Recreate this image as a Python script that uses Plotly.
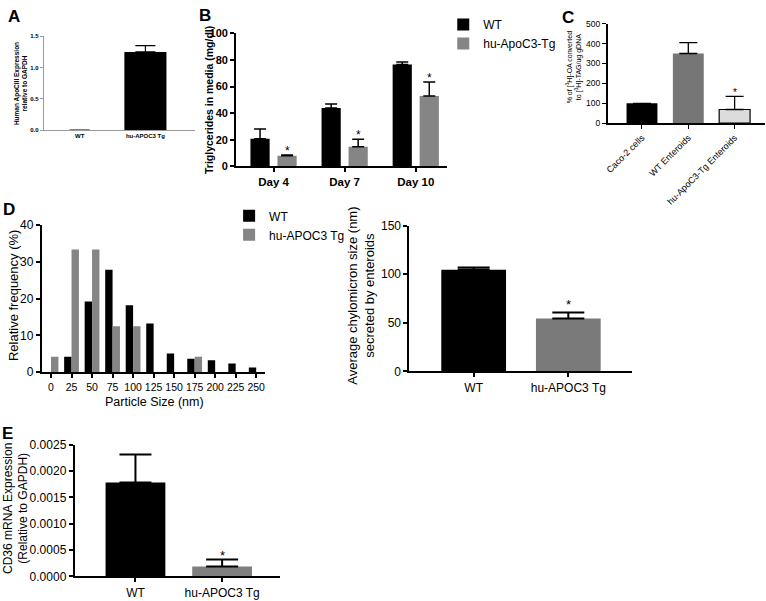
import plotly.graph_objects as go

W, H = 766, 601

# ---------------- data ----------------
# Panel A
a_groups = ["WT", "hu-APOC3 Tg"]
a_values = [0.0, 1.25]
a_errors = [None, 0.10]

# Panel B
b_days = ["Day 4", "Day 7", "Day 10"]
b_wt = [20.7, 43.9, 76.6]
b_wt_err = [7.3, 2.9, 1.9]
b_tg = [7.8, 14.6, 52.9]
b_tg_err = [0.7, 5.6, 10.5]

# Panel C
c_groups = ["Caco-2 cells", "WT Enteroids", "hu-ApoC3-Tg Enteroids"]
c_values = [100, 350, 69]
c_errors = [None, 55, 66]

# Panel D (left) - particle size distribution
d_sizes = ["0", "25", "50", "75", "100", "125", "150", "175", "200", "225", "250"]
d_wt = [0, 4.2, 19.2, 27.8, 18.2, 13.2, 5.1, 3.7, 3.3, 2.4, 1.3]
d_tg = [4.2, 33.3, 33.3, 12.5, 12.5, 0, 0, 4.2, 0, 0, 0]

# Panel D (right) - average chylomicron size
d2_groups = ["WT", "hu-APOC3 Tg"]
d2_values = [104.7, 54.4]
d2_errors = [2.3, 6.3]

# Panel E - CD36 mRNA
e_groups = ["WT", "hu-APOC3 Tg"]
e_values = [0.00178, 0.00019]
e_errors = [0.00053, 0.00013]

# ---------------- helpers ----------------
FONT = "Liberation Sans, Arial, sans-serif"
GRAY = "#858585"


def dx(a, b):
    return [a / W, b / W]


def dy(top, bottom):
    return [1 - bottom / H, 1 - top / H]


def px_x(v):
    return v / W


def px_y(v):
    return 1 - v / H


fig = go.Figure()


def err(arr, w, th=1.5):
    return dict(type="data", symmetric=False, array=arr, arrayminus=[0] * len(arr),
                color="black", thickness=th, width=w)


# Panel A
fig.add_trace(go.Bar(x=list(range(len(a_groups))), y=a_values, width=0.64,
                     marker=dict(color="black", line=dict(width=0)),
                     error_y=err(a_errors, 10, 1.2), xaxis="x", yaxis="y", showlegend=False))

# Panel B
xs = list(range(len(b_days)))
fig.add_trace(go.Bar(x=[i - 0.19 for i in xs], y=b_wt, width=0.27, name="WT",
                     marker=dict(color="black", line=dict(width=0)),
                     error_y=err(b_wt_err, 6), xaxis="x2", yaxis="y2", legend="legend"))
fig.add_trace(go.Bar(x=[i + 0.19 for i in xs], y=b_tg, width=0.27, name="hu-ApoC3-Tg",
                     marker=dict(color=GRAY, line=dict(width=0)),
                     error_y=err(b_tg_err, 6), xaxis="x2", yaxis="y2", legend="legend"))

# Panel C
c_colors = ["black", "#767676", "#dcdcdc"]
fig.add_trace(go.Bar(x=list(range(len(c_groups))), y=c_values, width=0.667,
                     marker=dict(color=c_colors, line=dict(color="black", width=[0, 0, 1.2])),
                     error_y=err(c_errors, 9, 1.3), xaxis="x3", yaxis="y3", showlegend=False))

# Panel D left
xd = list(range(len(d_sizes)))
fig.add_trace(go.Bar(x=[i - 0.18 for i in xd], y=d_wt, width=0.36, name="WT",
                     marker=dict(color="black", line=dict(width=0)),
                     xaxis="x4", yaxis="y4", legend="legend2"))
fig.add_trace(go.Bar(x=[i + 0.18 for i in xd], y=d_tg, width=0.36, name="hu-APOC3 Tg",
                     marker=dict(color=GRAY, line=dict(width=0)),
                     xaxis="x4", yaxis="y4", legend="legend2"))

# Panel D right
fig.add_trace(go.Bar(x=list(range(len(d2_groups))), y=d2_values, width=0.684,
                     marker=dict(color=["black", "#7a7a7a"], line=dict(width=0)),
                     error_y=err(d2_errors, 16, 2), xaxis="x5", yaxis="y5", showlegend=False))

# Panel E
fig.add_trace(go.Bar(x=list(range(len(e_groups))), y=e_values, width=0.69,
                     marker=dict(color=["black", "#7f7f7f"], line=dict(width=0)),
                     error_y=err(e_errors, 16, 2), xaxis="x6", yaxis="y6", showlegend=False))

# ---------------- axes ----------------
def axis_common(lw, col="black", tfs=12, bold=False):
    return dict(showline=True, linecolor=col, linewidth=lw, showgrid=False, zeroline=False,
                ticks="outside", ticklen=4, tickwidth=lw * 0.8, tickcolor=col,
                tickfont=dict(family=FONT, size=tfs, color="black",
                              weight="bold" if bold else "normal"))


layout = dict(
    width=W, height=H, margin=dict(l=0, r=0, t=0, b=0),
    plot_bgcolor="white", paper_bgcolor="white", barmode="overlay",
    font=dict(family=FONT, color="black"),
)

# A
layout["xaxis"] = dict(domain=dx(41, 193), range=[-0.545, 1.758], anchor="y",
                       tickvals=[0, 1], ticktext=a_groups, tickangle=0,
                       **axis_common(1, "#9a9a9a", 6, True))
layout["xaxis"]["ticks"] = ""
layout["yaxis"] = dict(domain=dy(30, 126), range=[0, 1.5], anchor="x",
                       tickvals=[0, 0.5, 1.0, 1.5], tickformat=".1f", **axis_common(1, "#9a9a9a", 6, True))
layout["yaxis"]["ticklen"] = 3

# B
layout["xaxis2"] = dict(domain=dx(234, 446), range=[-0.527, 2.443], anchor="y2",
                        tickvals=xs, ticktext=b_days, tickangle=0, **axis_common(2, "black", 11.5, True))
layout["yaxis2"] = dict(domain=dy(27, 163), range=[0, 100], anchor="x2",
                        tickvals=[0, 20, 40, 60, 80, 100], **axis_common(2, "black", 11, True))

# C
layout["xaxis3"] = dict(domain=dx(607, 765), range=[-0.742, 2.656], anchor="y3",
                        tickvals=[0, 1, 2], ticktext=c_groups, tickangle=-45,
                        **axis_common(1.5, "black", 9))
layout["yaxis3"] = dict(domain=dy(17, 119), range=[0, 500], anchor="x3",
                        tickvals=[0, 100, 200, 300, 400, 500], **axis_common(1.5, "black", 8.5))

# D left
layout["xaxis4"] = dict(domain=dx(39, 263), range=[-0.447, 10.427], anchor="y4",
                        tickvals=xd, ticktext=d_sizes, tickangle=0, **axis_common(2, "black", 10.5))
layout["yaxis4"] = dict(domain=dy(223, 374), range=[0, 40], anchor="x4",
                        tickvals=[0, 10, 20, 30, 40], **axis_common(2, "black", 12))

# D right
layout["xaxis5"] = dict(domain=dx(408, 631), range=[-0.679, 1.668], anchor="y5",
                        tickvals=[0, 1], ticktext=d2_groups, tickangle=0, **axis_common(2, "black", 12))
layout["yaxis5"] = dict(domain=dy(224, 373), range=[0, 150], anchor="x5",
                        tickvals=[0, 50, 100, 150], **axis_common(2, "black", 12))

# E
layout["xaxis6"] = dict(domain=dx(72, 278), range=[-0.701, 1.667], anchor="y6",
                        tickvals=[0, 1], ticktext=e_groups, tickangle=0, **axis_common(2, "black", 12))
layout["yaxis6"] = dict(domain=dy(448, 583), range=[0, 0.0025], anchor="x6",
                        tickvals=[0, 0.0005, 0.001, 0.0015, 0.002, 0.0025], tickformat=".4f",
                        **axis_common(2, "black", 12))

layout["legend"] = dict(x=px_x(442), y=px_y(3), xanchor="left", yanchor="top",
                        font=dict(family=FONT, size=12), tracegroupgap=0,
                        bgcolor="rgba(0,0,0,0)")
layout["legend2"] = dict(x=px_x(227), y=px_y(199), xanchor="left", yanchor="top",
                         font=dict(family=FONT, size=12), tracegroupgap=0,
                         bgcolor="rgba(0,0,0,0)")

fig.update_layout(**layout)

# ---------------- annotations ----------------
def ann(text, x, y, size, angle=0, bold=False, xanchor="center", yanchor="middle"):
    fig.add_annotation(text=text, x=px_x(x), y=px_y(y), xref="paper", yref="paper",
                       showarrow=False, textangle=angle, xanchor=xanchor, yanchor=yanchor,
                       font=dict(family=FONT, size=size, color="black",
                                 weight="bold" if bold else "normal"))


# Panel letters
ann("A", 11, 10, 17, bold=True)
ann("B", 203, 9, 17, bold=True)
ann("C", 567, 11, 17, bold=True)
ann("D", 6, 207, 17, bold=True)
ann("E", 5, 437, 17, bold=True)

# Axis titles
ann("Human ApoCIII Expression<br>relative to GAPDH", 17, 78, 6.5, angle=-90, bold=True)
ann("Triglycerides in media (mg/dl)", 207, 95, 10.5, angle=-90, bold=True)
ann("% of [<sup>3</sup>H]-OA converted<br>to [<sup>3</sup>H]-TAG/ug gDNA", 573, 62, 7, angle=-90)
ann("Relative frequency (%)", 10, 295, 13, angle=-90)
ann("Particle Size (nm)", 152, 404, 12.5)
ann("Average chylomicron size (nm)<br>secreted by enteroids", 360, 296, 13, angle=-90)
ann("CD36 mRNA Expression<br>(Relative to GAPDH)", 13, 513, 12, angle=-90)

# Significance stars
for i in range(len(b_days)):
    fig.add_annotation(text="*", x=i + 0.19, y=b_tg[i] + b_tg_err[i], xref="x2", yref="y2",
                       showarrow=False, yanchor="bottom", yshift=-5,
                       font=dict(family=FONT, size=12, color="black"))
fig.add_annotation(text="*", x=2, y=c_values[2] + c_errors[2], xref="x3", yref="y3",
                   showarrow=False, yanchor="bottom", yshift=-4,
                   font=dict(family=FONT, size=10, color="black"))
fig.add_annotation(text="*", x=1, y=d2_values[1] + d2_errors[1], xref="x5", yref="y5",
                   showarrow=False, yanchor="bottom", yshift=-2,
                   font=dict(family=FONT, size=13, color="black"))
fig.add_annotation(text="*", x=1, y=e_values[1] + e_errors[1], xref="x6", yref="y6",
                   showarrow=False, yanchor="bottom", yshift=-5,
                   font=dict(family=FONT, size=13, color="black"))

fig.write_html("out.html", config={"responsive": False, "displayModeBar": False},
               post_script="document.body.style.margin='0';document.body.style.overflow='hidden';")
